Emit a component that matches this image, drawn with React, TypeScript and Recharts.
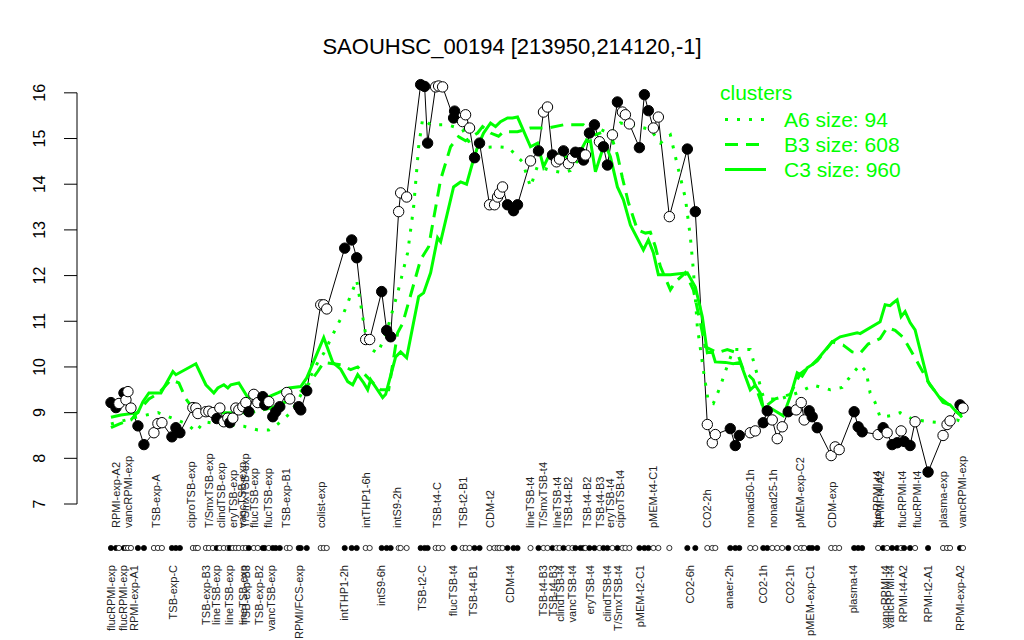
import React from 'react'
import { LineChart, Line, XAxis, YAxis, ReferenceLine } from 'recharts'

// condition positions along the x axis, expression level, cluster membership (1 = filled)
const exprPos = [
  10, 15, 18, 23, 25, 27, 30, 37, 43, 53, 57, 61, 71, 75, 79, 92, 95, 97, 105, 108,
  112, 116, 119, 123, 127, 129, 132, 135, 138, 142, 145, 148, 153, 157, 162, 164, 168, 172, 175, 179,
  186, 189, 198, 200, 206, 220, 223, 226, 244, 251, 256, 265, 269, 281, 286, 290, 298, 300, 306, 320,
  324, 327, 335, 338, 342, 353, 354, 362, 365, 369, 374, 379, 389, 394, 397, 399, 402, 407, 413, 417,
  430, 438, 443, 447, 452, 456, 459, 463, 468, 472, 475, 480, 483, 485, 489, 494, 499, 503, 507, 512,
  517, 522, 525, 529, 539, 544, 548, 553, 558, 569, 587, 595, 607, 612, 615, 630, 635, 639, 650, 655,
  663, 667, 672, 677, 682, 688, 696, 701, 704, 709, 712, 717, 731, 735, 739, 754, 758, 762, 778, 783,
  787, 792, 797, 801, 804, 810, 815, 828, 843, 847, 850, 860, 863,
]
const exprVal = [
  9.22, 9.11, 9.2, 9.43, 9.28, 9.46, 9.1, 8.71, 8.3, 8.56, 8.76, 8.78, 8.47, 8.67, 8.56, 9.11, 9.1, 8.98, 9.02, 9.03,
  9.0, 8.87, 9.1, 8.8, 8.88, 8.78, 8.88, 9.1, 9.06, 9.13, 9.22, 9.02, 9.4, 9.22, 9.35, 9.17, 9.24, 8.91, 9.02, 9.13,
  9.44, 9.3, 9.13, 9.06, 9.48, 11.36, 11.36, 11.27, 12.6, 12.78, 12.39, 10.6, 10.6, 11.65, 10.8, 10.66, 13.4, 13.81, 13.72, 16.18,
  16.14, 14.9, 16.13, 16.15, 16.13, 15.45, 15.6, 15.37, 15.52, 15.23, 14.58, 14.9, 13.55, 13.55, 13.72, 13.8, 13.94, 13.55, 13.42, 13.55,
  14.51, 14.73, 15.58, 15.69, 14.64, 14.49, 14.55, 14.73, 14.45, 14.58, 14.7, 14.69, 14.53, 14.64, 15.12, 15.3, 14.93, 14.82, 14.42, 15.08,
  15.8, 15.58, 15.52, 15.32, 14.8, 15.96, 15.61, 15.23, 15.47, 13.29, 14.77, 13.4, 8.74, 8.34, 8.52, 8.65, 8.28, 8.5, 8.56, 8.6,
  8.78, 9.04, 8.84, 8.43, 8.69, 9.02, 9.06, 9.22, 8.84, 9.04, 8.91, 8.67, 8.06, 8.25, 8.19, 9.02, 8.69, 8.58, 8.52, 8.67,
  8.56, 8.3, 8.34, 8.6, 8.37, 8.28, 8.8, 7.7, 8.5, 8.74, 8.82, 9.17, 9.1,
]
const exprFilled = [
  1, 1, 0, 1, 0, 0, 0, 1, 1, 0, 0, 0, 1, 1, 1, 0, 0, 0, 0, 0,
  0, 1, 0, 0, 0, 1, 0, 0, 0, 0, 0, 1, 0, 0, 1, 1, 0, 1, 1, 1,
  0, 0, 1, 1, 1, 0, 0, 0, 1, 1, 1, 0, 0, 1, 1, 1, 0, 0, 0, 1,
  1, 1, 0, 0, 0, 1, 1, 0, 0, 0, 1, 1, 0, 0, 0, 0, 0, 1, 1, 1,
  0, 1, 0, 0, 1, 0, 0, 1, 0, 0, 1, 1, 1, 0, 1, 1, 0, 1, 1, 0,
  1, 0, 0, 0, 1, 1, 1, 0, 0, 0, 1, 1, 0, 0, 0, 1, 1, 1, 0, 0,
  1, 1, 0, 0, 0, 1, 0, 0, 0, 1, 1, 1, 0, 0, 0, 1, 1, 1, 0, 1,
  0, 1, 1, 0, 1, 1, 0, 1, 0, 0, 0, 1, 0,
]

// cluster mean profiles
const a6Pos = [
  10, 35, 57, 75, 87, 95, 103, 120, 143, 157, 168, 177, 190, 203, 217, 223, 238, 243, 256, 267,
  277, 285, 297, 307, 313, 318, 322, 330, 347, 362, 370, 380, 397, 408, 422, 430, 437, 450, 463, 470,
  480, 490, 500, 510, 520, 530, 550, 560, 570, 577, 585, 590, 593, 597, 603, 608, 613, 620, 625, 633,
  650, 657, 663, 670, 680, 697, 713, 722, 730, 742, 750, 760, 766, 770, 775, 780, 790, 800, 813, 830,
  840, 857, 862,
]
const a6Val = [
  8.75, 8.9, 9.0, 8.85, 8.74, 8.58, 8.8, 8.75, 8.7, 8.62, 8.62, 8.75, 9.0, 9.5, 10.1, 10.3, 10.97, 11.18, 11.9, 10.44,
  10.3, 10.7, 11.62, 12.5, 13.5, 14.82, 15.43, 15.3, 15.3, 15.2, 14.86, 14.8, 14.82, 14.8, 14.49, 13.94, 14.4, 14.3, 14.25, 14.3,
  14.6, 15.2, 15.2, 15.1, 15.34, 15.3, 15.2, 14.9, 15.08, 14.42, 13.7, 12.85, 12.13, 10.88, 9.94, 9.24, 9.2, 9.57, 9.9, 10.38,
  10.38, 9.83, 9.35, 9.3, 9.3, 9.43, 9.6, 9.55, 9.5, 9.55, 9.79, 10.05, 9.9, 9.43, 9.22, 8.9, 8.93, 9.0, 8.85, 8.8,
  8.78, 8.84, 8.8,
]
const b3Pos = [
  10, 18, 30, 48, 58, 70, 78, 85, 95, 110, 130, 150, 170, 190, 207, 217, 223, 240, 250, 257,
  270, 280, 288, 297, 302, 320, 328, 340, 350, 358, 365, 377, 382, 390, 398, 403, 417, 430, 447, 463,
  483, 495, 503, 510, 517, 522, 528, 537, 545, 550, 555, 560, 570, 575, 585, 593, 600, 605, 617, 627,
  637, 643, 653, 663, 675, 690, 700, 717, 732, 743, 752, 760, 768, 780, 787, 795, 803, 812, 820, 830,
  840, 853, 862,
]
const b3Val = [
  8.67, 8.75, 8.84, 9.3, 9.43, 9.72, 9.65, 9.3, 9.0, 9.0, 9.0, 9.0, 9.1, 9.28, 9.6, 9.9, 10.1, 10.05, 9.94, 10.0,
  9.7, 9.5, 9.5, 10.75, 10.95, 12.35, 12.63, 14.1, 14.82, 15.04, 14.95, 15.12, 15.26, 15.12, 15.05, 15.15, 15.15, 15.23, 15.23, 15.3,
  15.3, 15.08, 15.15, 15.1, 14.64, 14.14, 13.6, 13.0, 12.93, 12.95, 12.63, 12.2, 11.69, 11.86, 12.06, 11.69, 10.97, 10.44, 10.31, 10.38,
  10.31, 9.94, 9.72, 9.1, 9.3, 9.4, 9.85, 10.13, 10.55, 10.48, 10.33, 10.3, 10.5, 10.62, 10.86, 10.8, 10.65, 10.31, 10.0, 9.6,
  9.33, 9.1, 8.9,
]
const c3Pos = [
  10, 20, 37, 42, 48, 60, 72, 75, 95, 105, 113, 117, 123, 127, 130, 138, 147, 157, 163, 177,
  188, 200, 206, 223, 232, 240, 247, 252, 257, 263, 267, 270, 282, 285, 295, 300, 306, 318, 323, 330,
  337, 340, 353, 360, 366, 372, 377, 383, 390, 395, 400, 407, 412, 417, 430, 437, 443, 450, 463, 477,
  485, 490, 495, 502, 505, 510, 517, 523, 530, 543, 548, 553, 558, 570, 587, 595, 602, 607, 612, 615,
  625, 633, 640, 650, 655, 660, 663, 670, 683, 690, 697, 702, 707, 712, 717, 732, 740, 757, 760, 780,
  785, 790, 793, 797, 801, 805, 810, 815, 828, 843, 850, 857, 862,
]
const c3Val = [
  8.9, 8.95, 9.0, 9.24, 9.43, 9.43, 9.9, 9.83, 10.07, 9.61, 9.43, 9.54, 9.61, 9.54, 9.61, 9.65, 9.33, 9.33, 9.3, 9.43,
  9.54, 9.57, 9.76, 10.64, 10.1, 9.95, 9.68, 9.61, 9.83, 9.65, 9.5, 9.72, 9.33, 9.4, 10.22, 10.33, 10.2, 11.54, 11.62, 12.06,
  12.83, 12.74, 13.94, 14.05, 14.0, 14.47, 14.82, 15.12, 15.34, 15.26, 15.37, 15.45, 15.45, 15.47, 14.82, 14.9, 14.38, 14.69, 14.6, 14.6,
  14.93, 14.95, 14.27, 14.75, 14.86, 14.6, 13.94, 13.66, 13.11, 12.56, 12.78, 12.5, 12.02, 12.02, 12.06, 11.75, 11.1, 10.31, 10.33, 10.11,
  10.1, 10.07, 10.1, 9.5, 9.6, 9.43, 9.1, 9.1, 8.93, 9.35, 9.87, 9.8, 9.98, 10.05, 10.16, 10.55, 10.66, 10.75, 10.73, 10.99,
  11.36, 11.34, 11.4, 11.47, 11.1, 11.21, 10.97, 10.81, 9.68, 9.22, 9.17, 9.0, 8.95,
]

// condition labels above and below the membership row
const topLabelPos = [
  15, 27, 55, 90, 108, 120, 132, 141, 144, 153, 167, 185, 220, 265, 297, 337, 363, 390, 430, 443,
  457, 468, 487, 500, 510, 520, 553, 607, 650, 673, 700, 732, 777, 780, 802, 817, 843, 862,
]
const topLabelText = [
  'RPMI-exp-A2', 'vancRPMI-exp', 'TSB-exp-A', 'ciproTSB-exp', 'T/SmxTSB-exp', 'clindTSB-exp', 'eryTSB-exp',
  'vancTSB-exp', 'T/SmxTSB-exp', 'flucTSB-exp', 'flucTSB-exp', 'TSB-exp-B1', 'colist-exp', 'intTHP1-6h',
  'intS9-2h', 'TSB-t4-C', 'TSB-t2-B1', 'CDM-t2', 'lineTSB-t4', 'T/SmxTSB-t4', 'lineTSB-t4', 'TSB-t4-B2',
  'TSB-t4-B2', 'TSB-t4-B3', 'eryTSB-t4', 'ciproTSB-t4', 'pMEM-t4-C1', 'CO2-2h', 'nonad50-1h', 'nonad25-1h',
  'pMEM-exp-C2', 'CDM-exp', 'flucRPMI-t4', 'RPMI-t4-A2', 'flucRPMI-t4', 'flucRPMI-t4', 'plasma-exp', 'vancRPMI-exp',
]
const bottomLabelPos = [
  10, 22, 33, 72, 105, 115, 128, 142, 145, 158, 170, 198, 243, 280, 322, 353, 373, 410, 443, 453,
  460, 472, 490, 507, 518, 540, 590, 629, 663, 690, 710, 753, 785, 790, 803, 828, 860,
]
const bottomLabelText = [
  'flucRPMI-exp', 'flucRPMI-exp', 'RPMI-exp-A1', 'TSB-exp-C', 'TSB-exp-B3', 'lineTSB-exp', 'lineTSB-exp',
  'lineTSB-exp', 'TSB-exp-B3', 'TSB-exp-B2', 'vancTSB-exp', 'RPMI/FCS-exp', 'intTHP1-2h', 'intS9-6h',
  'TSB-t2-C', 'flucTSB-t4', 'TSB-t4-B1', 'CDM-t4', 'TSB-t4-B3', 'TSB-t4-B3', 'clindTSB-t4', 'vancTSB-t4',
  'eryTSB-t4', 'clindTSB-t4', 'T/SmxTSB-t4', 'pMEM-t2-C1', 'CO2-6h', 'anaer-2h', 'CO2-1h', 'CO2-1h',
  'pMEM-exp-C1', 'plasma-t4', 'vancRPMI-t4', 'vancRPMI-t4', 'RPMI-t4-A2', 'RPMI-t2-A1', 'RPMI-exp-A2',
]
const yTicks = [7, 8, 9, 10, 11, 12, 13, 14, 15, 16]

const legendItems = [
  { name: 'A6 size: 94', dash: '3 9' },
  { name: 'B3 size: 608', dash: '13 8' },
  { name: 'C3 size: 960', dash: undefined },
]

const GREEN = '#00ff00'
const FONT = '"Liberation Sans", Arial, Helvetica, sans-serif'

const exprData = exprPos.map((x, i) => ({ x, y: exprVal[i], f: exprFilled[i] }))
const a6Data = a6Pos.map((x, i) => ({ x, y: a6Val[i] }))
const b3Data = b3Pos.map((x, i) => ({ x, y: b3Val[i] }))
const c3Data = c3Pos.map((x, i) => ({ x, y: c3Val[i] }))

const allTicks = Array.from(new Set([...exprPos, ...topLabelPos, ...bottomLabelPos])).sort((a, b) => a - b)

function ConditionTick(props: any) {
  const { x, y, payload } = props
  const v = payload.value
  const out: React.ReactNode[] = []
  const di = exprPos.indexOf(v)
  if (di >= 0) {
    out.push(
      <circle key="d" cx={x} cy={y + 44} r={2.6} fill={exprFilled[di] ? 'black' : 'white'} stroke="black" strokeWidth={0.8} />
    )
  }
  topLabelPos.forEach((p, i) => {
    if (p === v) {
      out.push(
        <text key={'t' + i} x={x} y={y + 24} dy="0.35em" transform={`rotate(-90, ${x}, ${y + 24})`}
          textAnchor="start" fontSize={11} fontFamily={FONT} fill="#222">{topLabelText[i]}</text>
      )
    }
  })
  bottomLabelPos.forEach((p, i) => {
    if (p === v) {
      out.push(
        <text key={'b' + i} x={x} y={y + 61} dy="0.35em" transform={`rotate(-90, ${x}, ${y + 61})`}
          textAnchor="end" fontSize={11} fontFamily={FONT} fill="#222">{bottomLabelText[i]}</text>
      )
    }
  })
  return <g>{out}</g>
}

function ValueTick(props: any) {
  const { x, y, payload } = props
  const lx = x - 25
  return (
    <text x={lx} y={y} dy="0.35em" transform={`rotate(-90, ${lx}, ${y})`} textAnchor="middle"
      fontSize={16} fontFamily={FONT} fill="black">{payload.value}</text>
  )
}

function ExprDot(props: any) {
  const { cx, cy, payload, index } = props
  return <circle key={'e' + index} cx={cx} cy={cy} r={5.2} fill={payload.f ? 'black' : 'white'} stroke="black" strokeWidth={1} />
}

export default function App() {
  return (
    <div style={{ position: 'absolute', left: 0, top: 0, width: 1024, height: 640, background: 'white', fontFamily: FONT }}>
      <div style={{ position: 'absolute', top: 34, left: 0, width: 1024, textAlign: 'center', fontSize: 22, lineHeight: '26px', color: 'black' }}>
        SAOUHSC_00194 [213950,214120,-1]
      </div>

      <LineChart width={1024} height={640} margin={{ top: 70, right: 27, bottom: 16, left: 17 }}>
        <XAxis type="number" dataKey="x" domain={[-24, 897]} ticks={allTicks} interval={0}
          tick={(p: any) => <ConditionTick {...p} />} tickLine={false} axisLine={false}
          tickSize={0} tickMargin={0} height={120} allowDataOverflow />
        <YAxis type="number" domain={[7, 16.5]} ticks={yTicks} interval={0} width={60}
          axisLine={false} tickLine={{ stroke: 'black' }} tickSize={13} tickMargin={0}
          tick={(p: any) => <ValueTick {...p} />} allowDataOverflow />
        <ReferenceLine segment={[{ x: -24, y: 7 }, { x: -24, y: 16 }]} stroke="black" strokeWidth={1} />

        <Line data={exprData} dataKey="y" stroke="black" strokeWidth={1} dot={(p: any) => <ExprDot {...p} />}
          activeDot={false} isAnimationActive={false} />
        <Line data={a6Data} dataKey="y" stroke={GREEN} strokeWidth={3} strokeDasharray="3 9" dot={false}
          activeDot={false} isAnimationActive={false} />
        <Line data={b3Data} dataKey="y" stroke={GREEN} strokeWidth={3} strokeDasharray="13 8" dot={false}
          activeDot={false} isAnimationActive={false} />
        <Line data={c3Data} dataKey="y" stroke={GREEN} strokeWidth={3} dot={false}
          activeDot={false} isAnimationActive={false} />
      </LineChart>

      <div style={{ position: 'absolute', left: 720, top: 80, color: GREEN }}>
        <div style={{ fontSize: 21, lineHeight: '26px', height: 27 }}>clusters</div>
        {legendItems.map((it) => (
          <div key={it.name} style={{ display: 'flex', alignItems: 'center', height: 25, fontSize: 21 }}>
            <svg width={64} height={25} style={{ flex: 'none' }}>
              <line x1={5} y1={12.5} x2={46} y2={12.5} stroke={GREEN} strokeWidth={3} strokeDasharray={it.dash} />
            </svg>
            <span style={{ whiteSpace: 'nowrap' }}>{it.name}</span>
          </div>
        ))}
      </div>
    </div>
  )
}
